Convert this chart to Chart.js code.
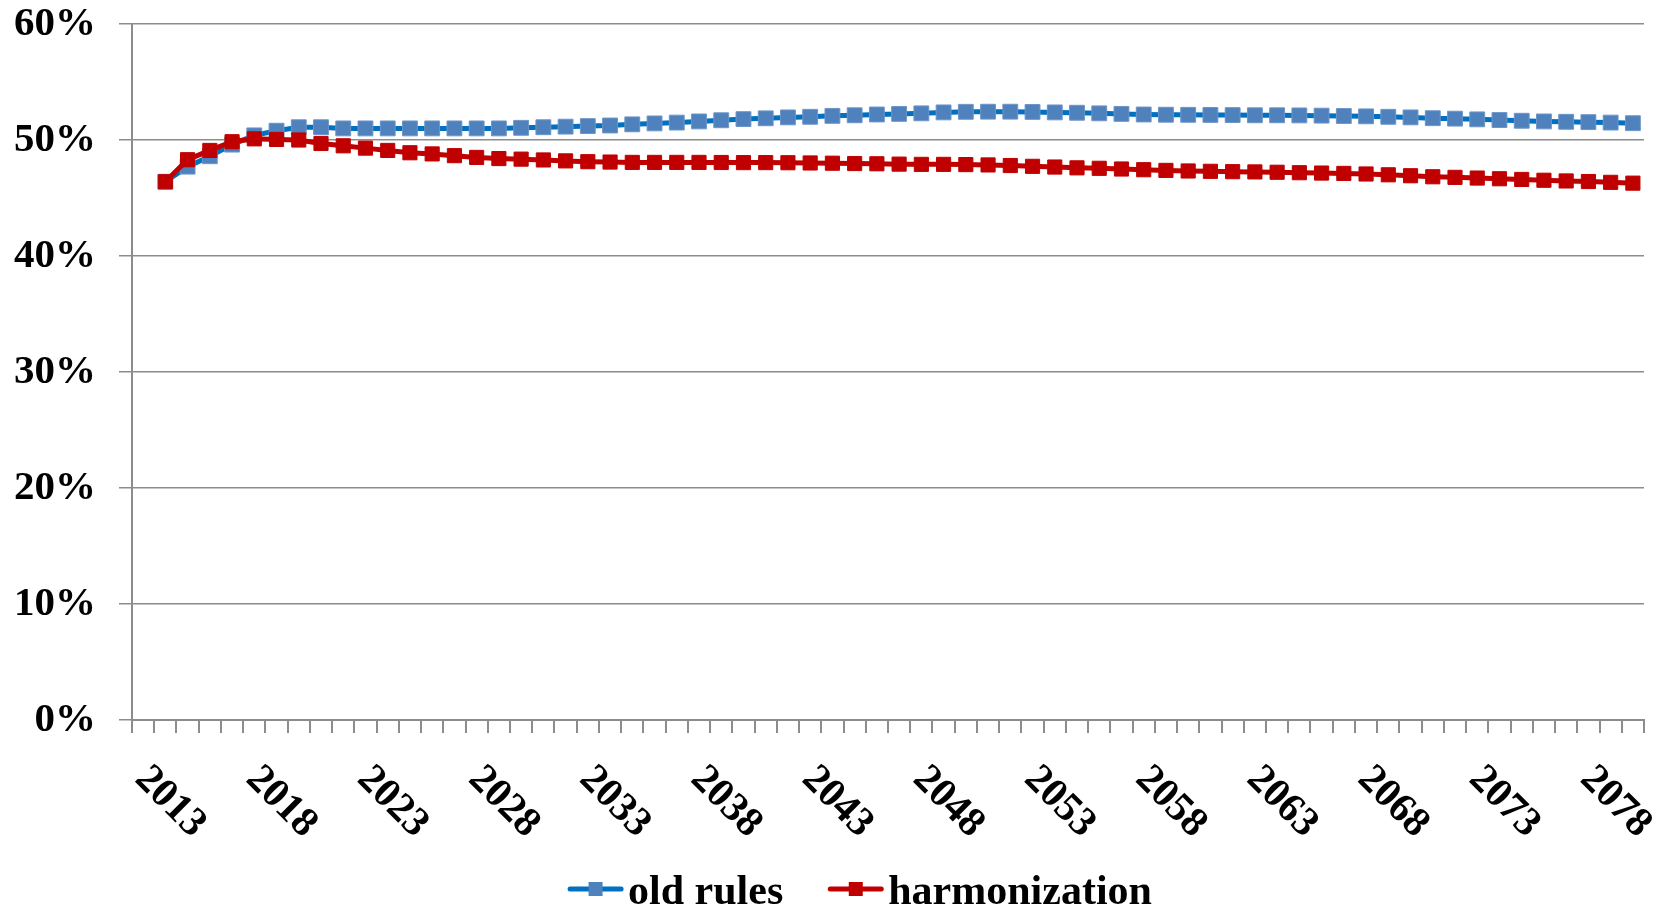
<!DOCTYPE html>
<html>
<head>
<meta charset="utf-8">
<script src="https://cdn.jsdelivr.net/npm/chart.js@4/dist/chart.umd.min.js"></script>
<style>
  html, body { margin: 0; padding: 0; background: #ffffff; }
  #wrap { width: 1665px; height: 908px; position: relative; }
</style>
</head>
<body>
<div id="wrap"><canvas id="chart" width="1665" height="908"></canvas></div>
<script>
// Category axis: one slot per year
const years = [
  2013, 2014, 2015, 2016, 2017, 2018, 2019, 2020, 2021, 2022,
  2023, 2024, 2025, 2026, 2027, 2028, 2029, 2030, 2031, 2032,
  2033, 2034, 2035, 2036, 2037, 2038, 2039, 2040, 2041, 2042,
  2043, 2044, 2045, 2046, 2047, 2048, 2049, 2050, 2051, 2052,
  2053, 2054, 2055, 2056, 2057, 2058, 2059, 2060, 2061, 2062,
  2063, 2064, 2065, 2066, 2067, 2068, 2069, 2070, 2071, 2072,
  2073, 2074, 2075, 2076, 2077, 2078, 2079, 2080
];

// Years that carry a printed label under the axis
const labeledYears = [2013, 2018, 2023, 2028, 2033, 2038, 2043, 2048, 2053, 2058, 2063, 2068, 2073, 2078];

// Share in percent
const oldRules = [
  null,
  46.4, 47.7, 48.6, 49.6, 50.4, 50.8, 51.1, 51.1, 51.0, 51.0,
  51.0, 51.0, 51.0, 51.0, 51.0, 51.0, 51.05, 51.1, 51.15, 51.2,
  51.25, 51.35, 51.43, 51.5, 51.6, 51.7, 51.8, 51.87, 51.95, 52.0,
  52.08, 52.13, 52.2, 52.25, 52.3, 52.38, 52.43, 52.44, 52.44, 52.42,
  52.38, 52.35, 52.3, 52.25, 52.2, 52.18, 52.17, 52.16, 52.15, 52.13,
  52.13, 52.12, 52.1, 52.07, 52.04, 52.0, 51.95, 51.88, 51.84, 51.78,
  51.72, 51.66, 51.6, 51.57, 51.54, 51.5, 51.45
];

const harmonization = [
  null,
  46.4, 48.3, 49.1, 49.85, 50.1, 50.05, 50.0, 49.7, 49.5, 49.3,
  49.1, 48.9, 48.8, 48.65, 48.5, 48.4, 48.35, 48.28, 48.2, 48.13,
  48.1, 48.07, 48.07, 48.07, 48.07, 48.06, 48.05, 48.05, 48.04, 48.02,
  48.0, 47.97, 47.95, 47.92, 47.9, 47.9, 47.88, 47.85, 47.8, 47.73,
  47.67, 47.6, 47.56, 47.5, 47.44, 47.38, 47.33, 47.3, 47.27, 47.25,
  47.22, 47.18, 47.15, 47.12, 47.07, 47.0, 46.92, 46.83, 46.78, 46.72,
  46.66, 46.6, 46.53, 46.47, 46.42, 46.35, 46.28
];

// Value axis range
const yMin = 0;
const yMax = 60;
const yStep = 10;

const SERIF = '"Liberation Serif", "Times New Roman", Times, serif';
const AXIS_GREY = '#8c8c8c';

// Rotated year labels under the axis, reading downwards to the right
const yearLabels = {
  id: 'yearLabels',
  afterDraw(chart) {
    const xs = chart.scales.x;
    const ctx = chart.ctx;
    ctx.save();
    ctx.font = 'bold 41px ' + SERIF;
    ctx.fillStyle = '#000000';
    ctx.textAlign = 'left';
    ctx.textBaseline = 'middle';
    years.forEach((yr, i) => {
      if (!labeledYears.includes(yr)) return;
      const px = xs.getPixelForValue(i);
      ctx.save();
      ctx.translate(px - 2, xs.top + 53);
      ctx.rotate(Math.PI / 4);
      ctx.fillText(String(yr), 0, 0);
      ctx.restore();
    });
    ctx.restore();
  }
};

// Legend: short line with the series marker, followed by the name
const lineLegend = {
  id: 'lineLegend',
  afterDraw(chart) {
    const ctx = chart.ctx;
    const sets = chart.data.datasets;
    const lineLen = 55, textGap = 5, itemGap = 45;
    const cy = 889, baseline = 904;
    ctx.save();
    ctx.font = 'bold 42px ' + SERIF;
    const widths = sets.map(ds => lineLen + textGap + ctx.measureText(ds.label).width);
    const total = widths.reduce((a, b) => a + b, 0) + itemGap * (sets.length - 1);
    let x = 860 - total / 2;
    sets.forEach((ds, i) => {
      ctx.strokeStyle = ds.borderColor;
      ctx.lineWidth = 5;
      ctx.lineCap = 'round';
      ctx.beginPath();
      ctx.moveTo(x + 2, cy);
      ctx.lineTo(x + lineLen - 2, cy);
      ctx.stroke();
      ctx.fillStyle = ds.pointBackgroundColor;
      ctx.fillRect(x + lineLen / 2 - 7, cy - 7, 14, 14);
      ctx.fillStyle = '#000000';
      ctx.textAlign = 'left';
      ctx.textBaseline = 'alphabetic';
      ctx.fillText(ds.label, x + lineLen + textGap, baseline);
      x += widths[i] + itemGap;
    });
    ctx.restore();
  }
};

new Chart(document.getElementById('chart'), {
  type: 'line',
  data: {
    labels: years,
    datasets: [
      {
        label: 'old rules',
        data: oldRules,
        borderColor: '#0070C0',
        borderWidth: 5,
        pointStyle: 'rect',
        pointRadius: 10.5,
        pointBackgroundColor: '#4F81BD',
        pointBorderColor: '#6d95c8',
        pointBorderWidth: 1,
        tension: 0,
        order: 2
      },
      {
        label: 'harmonization',
        data: harmonization,
        borderColor: '#C00000',
        borderWidth: 5,
        pointStyle: 'rect',
        pointRadius: 10,
        pointBackgroundColor: '#C00000',
        pointBorderColor: '#C00000',
        pointBorderWidth: 1,
        tension: 0,
        order: 1
      }
    ]
  },
  options: {
    responsive: false,
    animation: false,
    devicePixelRatio: 1,
    events: [],
    layout: { padding: { top: 24, right: 21, left: 0, bottom: 0 } },
    plugins: {
      legend: { display: false },
      tooltip: { enabled: false }
    },
    scales: {
      x: {
        type: 'category',
        offset: true,
        grid: {
          offset: true,
          drawOnChartArea: false,
          drawTicks: true,
          tickLength: 13,
          color: AXIS_GREY,
          lineWidth: 2
        },
        border: { color: AXIS_GREY, width: 2 },
        ticks: { display: false, autoSkip: false },
        afterFit(scale) {
          scale.height = 188;
          scale.paddingLeft = 0;
          scale.paddingRight = 0;
        }
      },
      y: {
        min: yMin,
        max: yMax,
        grid: {
          color: AXIS_GREY,
          lineWidth: 1.5,
          tickLength: 13
        },
        border: { color: AXIS_GREY, width: 2 },
        ticks: {
          stepSize: yStep,
          padding: 23,
          color: '#000000',
          font: { family: SERIF, size: 41, weight: 'bold' },
          callback: v => v + '%'
        },
        afterFit(scale) {
          scale.width = 132;
          scale.paddingTop = 0;
          scale.paddingBottom = 0;
        }
      }
    }
  },
  plugins: [yearLabels, lineLegend]
});
</script>
</body>
</html>
